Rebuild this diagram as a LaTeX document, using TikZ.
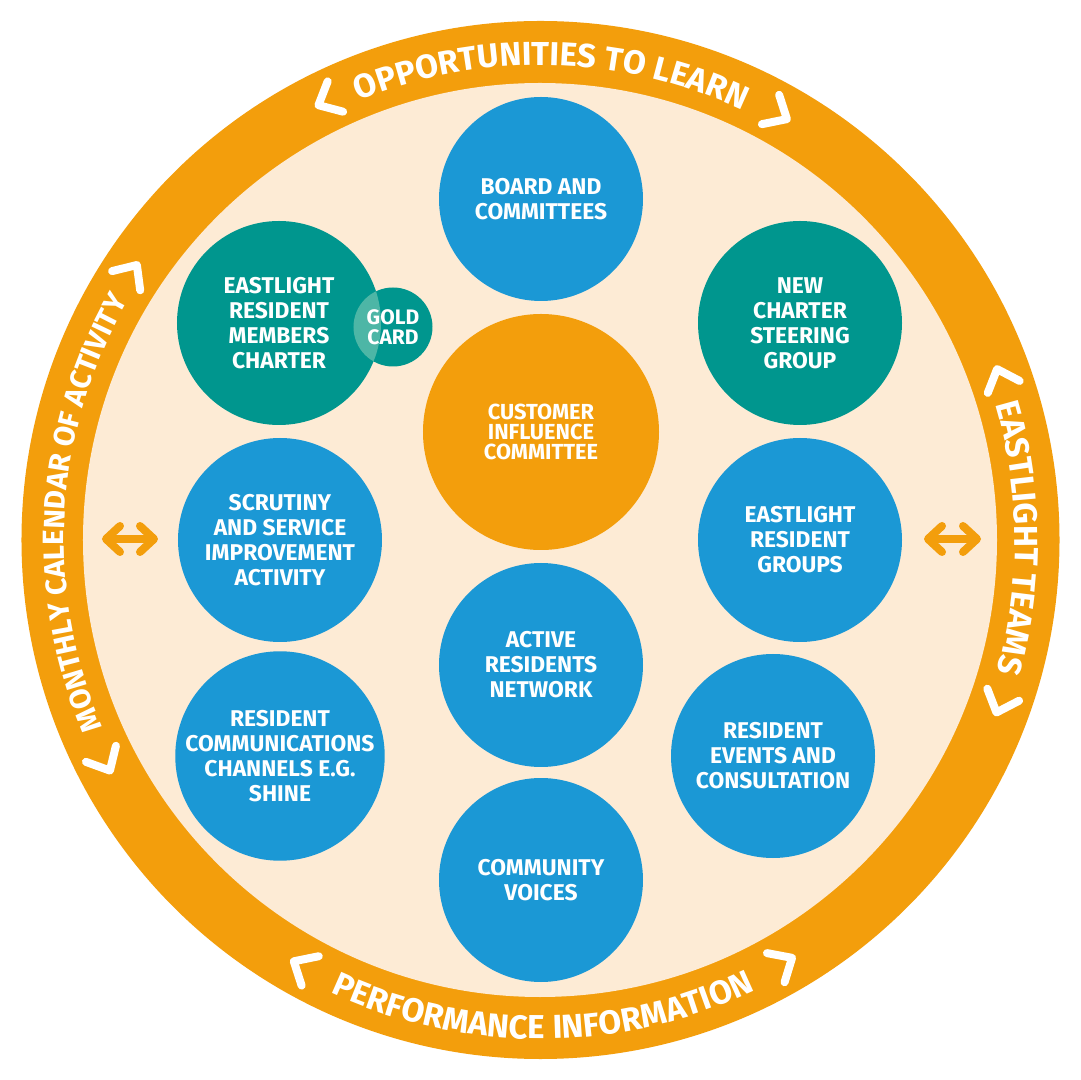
\documentclass[tikz,border=0pt]{standalone}
\usepackage{fontspec}
\setmainfont{Fira Sans}
\usetikzlibrary{decorations.text, arrows.meta}
\definecolor{ringorange}{HTML}{F39E0C}
\definecolor{beige}{HTML}{FDEBD5}
\definecolor{cblue}{HTML}{1B98D5}
\definecolor{cteal}{HTML}{00968E}
\definecolor{lteal}{HTML}{4DB6A6}
\newcommand\bandtext{\fontsize{16.6}{18}\selectfont\bfseries}
\newcommand\bandtextsmall{\fontsize{14.7}{16}\selectfont\bfseries}
\tikzset{
  bubble/.style={circle, inner sep=0pt, minimum size=102pt, text=white, align=center,
    font=\fontsize{11.4}{12.5}\selectfont\bfseries},
  bluebub/.style={bubble, fill=cblue},
  tealbub/.style={bubble, fill=cteal},
  orangebub/.style={bubble, fill=ringorange, minimum size=118pt,
    font=\fontsize{10.9}{10}\selectfont\bfseries},
  goldtext/.style={text=white, align=center, inner sep=0pt,
    font=\fontsize{10.5}{9.8}\selectfont\bfseries},
  dblarrow/.style={draw=ringorange, line width=4pt, line cap=round, <->,
    >={Straight Barb[length=7pt, width=13pt, round]}},
  bandpath/.style={decorate, decoration={text along path, text align=center,
    text color=white, text={|\bandtext|#1}}},
  bandpathsmall/.style={decorate, decoration={text along path, text align=center,
    text color=white, text={|\bandtextsmall|#1}}},
  chev/.pic={\draw[white, line width=4pt, line cap=round, line join=round]
    (-19,17) -- (0,0) -- (-19,-17);}
}
\begin{document}
\begin{tikzpicture}[x=0.5pt, y=0.5pt]
\useasboundingbox (-540,-540) rectangle (540,540);
\fill[white] (-540,-540) rectangle (540,540);
\fill[ringorange] (0.5,0) circle[radius=519];
\fill[beige] (0,0) circle[radius=457];

% circles
\node[bluebub] (board) at (1,341) {BOARD AND\\COMMITTEES};
\node[tealbub] (ermc) at (-261,217) {EASTLIGHT\\RESIDENT\\MEMBERS\\CHARTER};
\node[circle, fill=cteal, inner sep=0pt, minimum size=39.5pt] (gold) at (-147,213) {};
\begin{scope}
  \clip (ermc.center) circle[radius=102];
  \fill[lteal] (gold.center) circle[radius=39.5];
\end{scope}
\node[goldtext] (goldlbl) at (gold.center) {GOLD\\CARD};
\node[tealbub] (ncsg) at (260,217) {NEW\\CHARTER\\STEERING\\GROUP};
\node[orangebub] (cic) at (1,108) {CUSTOMER\\INFLUENCE\\COMMITTEE};
\node[bluebub] (scrut) at (-260,0) {SCRUTINY\\AND SERVICE\\IMPROVEMENT\\ACTIVITY};
\node[bluebub] (erg) at (260,0) {EASTLIGHT\\RESIDENT\\GROUPS};
\node[bluebub] (arn) at (1,-125) {ACTIVE\\RESIDENTS\\NETWORK};
\node[bluebub] (rcc) at (-260,-216) {RESIDENT\\COMMUNICATIONS\\CHANNELS E.G.\\SHINE};
\node[bluebub] (rev) at (233,-216) {RESIDENT\\EVENTS AND\\CONSULTATION};
\node[bluebub] (cv) at (1,-340) {COMMUNITY\\VOICES};

% band texts
\path[bandpath={OPPORTUNITIES TO LEARN}] (118.6:475) arc[start angle=118.6, end angle=58.6, radius=475];
\path[bandpath={PERFORMANCE INFORMATION}] (240.35:499) arc[start angle=240.35, end angle=300.35, radius=499];
\path[bandpathsmall={MONTHLY CALENDAR OF ACTIVITY}] (206.5:476) arc[start angle=206.5, end angle=146.5, radius=476];
\path[bandpath={EASTLIGHT TEAMS}] (30.25:475) arc[start angle=30.25, end angle=-29.75, radius=475];

% chevrons
\pic[rotate=207] at (117:488) {chev};
\pic[rotate=-30.4] at (59.6:488) {chev};
\pic[rotate=149.7] at (239.7:488) {chev};
\pic[rotate=31.1] at (301.1:488) {chev};
\pic[rotate=55.7] at (145.7:488) {chev};
\pic[rotate=298.2] at (208.2:488) {chev};
\pic[rotate=110.5] at (20.5:488) {chev};
\pic[rotate=-110.7] at (-20.7:488) {chev};

% arrows
\coordinate (la) at (-438,1);
\coordinate (lb) at (-382,1);
\coordinate (ra) at (384,1);
\coordinate (rb) at (441,1);
\draw[dblarrow] (la) -- (lb);
\draw[dblarrow] (ra) -- (rb);
\end{tikzpicture}
\end{document}
